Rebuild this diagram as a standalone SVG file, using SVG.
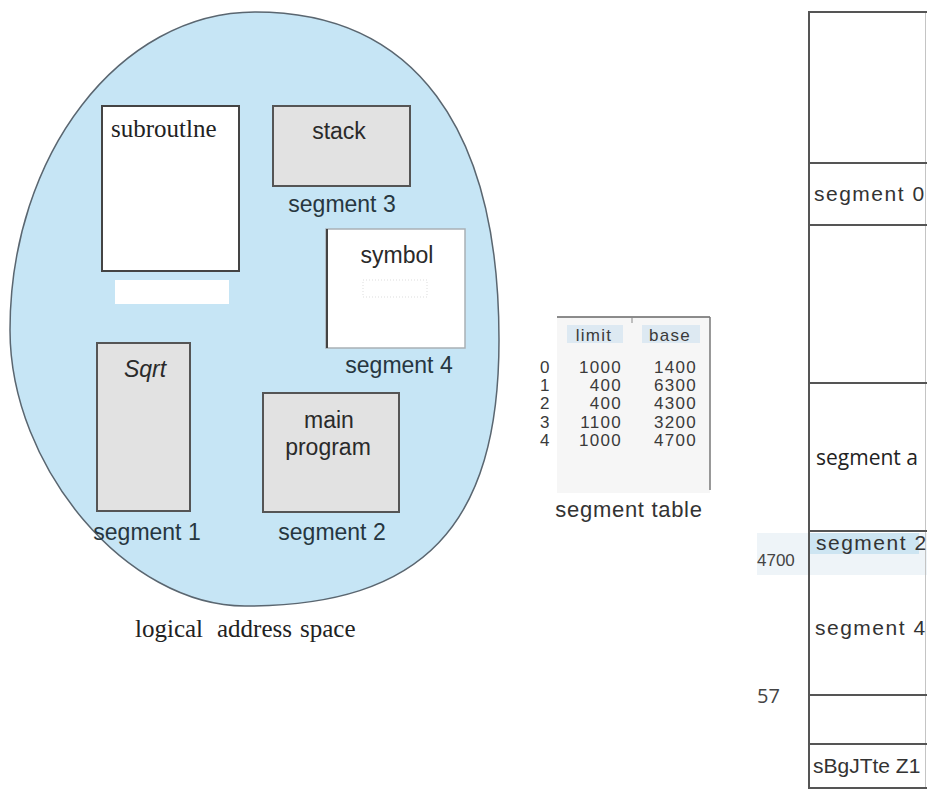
<svg xmlns="http://www.w3.org/2000/svg" width="927" height="790" viewBox="0 0 927 790">
<style>
.sans{font-family:"Liberation Sans",Arial,sans-serif}
.serif{font-family:"Liberation Serif","Times New Roman",serif}
.open{font-family:"Open Sans","Liberation Sans",sans-serif}
.lbl{font-size:23px;fill:#263640;text-anchor:middle}
.box{font-size:23px;fill:#2a2a2a;text-anchor:middle}
.gray{fill:#e2e2e2;stroke:#555;stroke-width:2}
.white{fill:#fff;stroke:#444;stroke-width:2}
.num{font-size:17px;fill:#3a3a3a;letter-spacing:1.3px}
.mem{stroke:#555;stroke-width:2;fill:none}
.memtxt{font-size:21px;fill:#333;letter-spacing:1.5px}
</style>
<rect width="927" height="790" fill="#fff"/>

<g id="logical-space">
  <path d="M255,12 C413.6,12 499,126.8 499,340 C499,526 422.8,606 245,606 C127.5,606 10,468 10,330 C10,154.5 119.8,12 255,12 Z" fill="#c6e5f5" stroke="#5a6670" stroke-width="1.5"/>
</g>

<g id="subroutine">
  <rect x="102" y="106" width="137" height="165" class="white"/>
  <text x="111" y="137" class="serif" font-size="25" fill="#222">subroutlne</text>
  <rect x="115" y="280" width="114" height="24" fill="#fff"/>
</g>

<g id="stack">
  <rect x="273" y="106" width="137" height="80" class="gray"/>
  <text x="339" y="139" class="sans box">stack</text>
  <text x="342" y="212" class="sans lbl">segment 3</text>
</g>

<g id="symbol">
  <rect x="326" y="229" width="139" height="119" fill="#fff" stroke="#a9b0b5" stroke-width="1.5"/>
  <line x1="327" y1="229" x2="327" y2="348" stroke="#444" stroke-width="2"/>
  <text x="397" y="263" class="sans box">symbol</text>
  <rect x="363" y="280" width="64" height="17" fill="none" stroke="#ddd" stroke-width="1" stroke-dasharray="1 2"/>
  <text x="399" y="373" class="sans lbl">segment 4</text>
</g>

<g id="sqrt">
  <rect x="97" y="343" width="93" height="168" class="gray"/>
  <text x="145" y="377" class="sans box" font-style="italic" font-size="22">Sqrt</text>
  <text x="147" y="540" class="sans lbl">segment 1</text>
</g>

<g id="main-program">
  <rect x="263" y="393" width="136" height="119" class="gray"/>
  <text x="329" y="428" class="sans box" font-size="24">main</text>
  <text x="328" y="455" class="sans box" font-size="24">program</text>
  <text x="332" y="540" class="sans lbl">segment 2</text>
</g>

<g id="caption">
  <text y="637" class="serif" font-size="25" fill="#222"><tspan x="135">logical</tspan><tspan x="217">address</tspan><tspan x="300">space</tspan></text>
</g>

<g id="segment-table">
  <rect x="557" y="317" width="153" height="176" fill="#f6f6f6"/>
  <line x1="557" y1="317" x2="710" y2="317" stroke="#666" stroke-width="1.5"/>
  <line x1="710" y1="317" x2="710" y2="490" stroke="#777" stroke-width="1.5"/>
  <line x1="632" y1="317" x2="632" y2="323" stroke="#888" stroke-width="1"/>
  <rect x="567" y="325" width="56" height="18" fill="#dde9f2"/>
  <rect x="642" y="325" width="58" height="18" fill="#dde9f2"/>
  <text x="594" y="341" class="sans num" text-anchor="middle">limit</text>
  <text x="670" y="341" class="sans num" text-anchor="middle">base</text>
  <g class="sans num">
    <text x="540" y="373">0</text>
    <text x="540" y="391">1</text>
    <text x="540" y="409">2</text>
    <text x="540" y="428">3</text>
    <text x="540" y="446">4</text>
  </g>
  <g class="sans num" text-anchor="end">
    <text x="622" y="373">1000</text>
    <text x="622" y="391">400</text>
    <text x="622" y="409">400</text>
    <text x="622" y="428">1100</text>
    <text x="622" y="446">1000</text>
    <text x="697" y="373">1400</text>
    <text x="697" y="391">6300</text>
    <text x="697" y="409">4300</text>
    <text x="697" y="428">3200</text>
    <text x="697" y="446">4700</text>
  </g>
  <text x="629" y="517" class="sans" font-size="22" fill="#333" letter-spacing="0.7" text-anchor="middle">segment table</text>
</g>

<g id="memory">
  <rect x="757" y="533" width="170" height="42" fill="#eef4f8"/>
  <rect x="809" y="533" width="110" height="21" fill="#cde5f2"/>
  <line x1="809" y1="12" x2="809" y2="788" class="mem"/>
  <line x1="925.5" y1="12" x2="925.5" y2="788" stroke="#c4c4c4" stroke-width="1"/>
  <line x1="808" y1="12" x2="927" y2="12" class="mem"/>
  <line x1="808" y1="163" x2="927" y2="163" class="mem"/>
  <line x1="808" y1="225" x2="927" y2="225" class="mem"/>
  <line x1="808" y1="383" x2="927" y2="383" class="mem"/>
  <line x1="808" y1="531" x2="927" y2="531" class="mem"/>
  <line x1="808" y1="695" x2="927" y2="695" class="mem"/>
  <line x1="808" y1="744" x2="927" y2="744" class="mem"/>
  <line x1="808" y1="788" x2="927" y2="788" class="mem"/>
  <text x="814" y="201" class="sans memtxt">segment 0</text>
  <text x="816" y="465" class="open" font-size="21" fill="#222">segment a</text>
  <text x="816" y="550" class="sans memtxt">segment 2</text>
  <text x="815" y="635" class="sans memtxt">segment 4</text>
  <text x="813" y="773" class="sans" font-size="21" fill="#333">sBgJTte Z1</text>
  <text x="757" y="566" class="sans" font-size="17" fill="#444">4700</text>
  <text x="757" y="703" class="open" font-size="20" fill="#444">57</text>
</g>
</svg>
